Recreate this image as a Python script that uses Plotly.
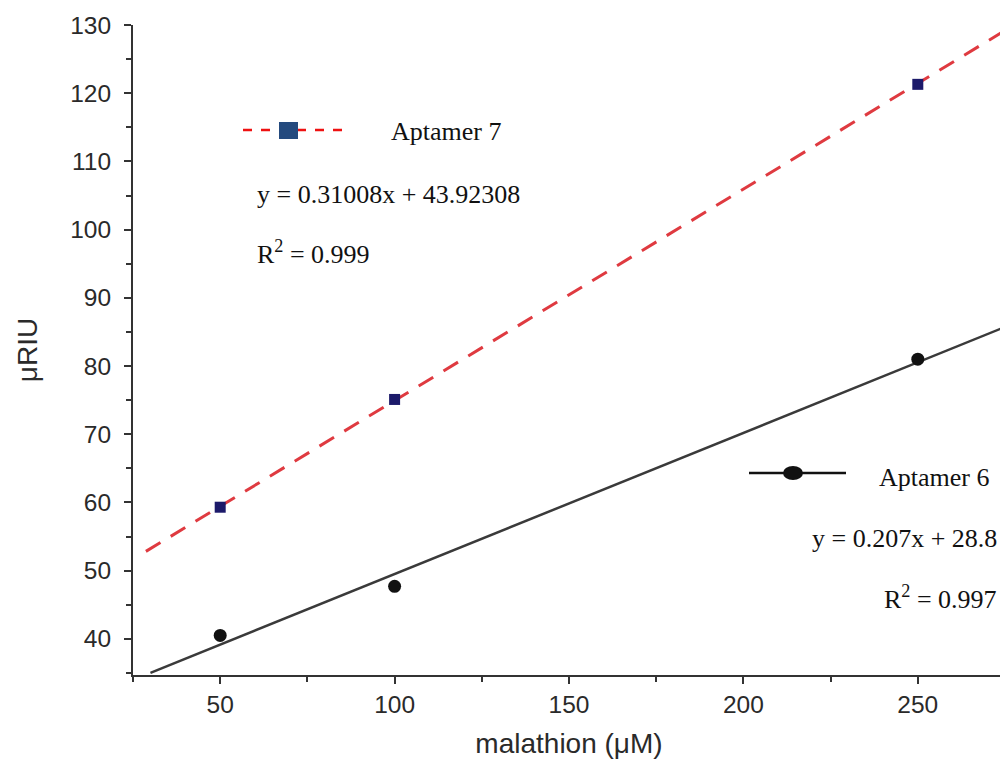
import plotly.graph_objects as go

conc = [50, 100, 250]
apt7 = [59.3, 75.1, 121.3]
apt6 = [40.5, 47.7, 81.0]
fit_x7 = [28.7, 275]
fit_x6 = [30, 275]
slope7, icpt7 = 0.31008, 43.92308
slope6, icpt6 = 0.207, 28.8
xticks = [50, 100, 150, 200, 250]
yticks = [40, 50, 60, 70, 80, 90, 100, 110, 120, 130]

# page offset of the figure (body margin)
OFF = 8
W, H = 1000, 764
PL, PT, PR, PB = 133, 25, 1005, 675  # plot area in page pixels
L, T = PL - OFF, PT - OFF
R = (W + OFF) - PR
B = (H + OFF) - PB
pw, ph = PR - PL, PB - PT

def px(x):
    return (x - PL) / pw

def py(y):
    return (PB - y) / ph

fig = go.Figure()
fig.add_trace(go.Scatter(x=fit_x7, y=[slope7 * v + icpt7 for v in fit_x7], mode="lines",
                         line=dict(color="#df3a40", width=3, dash="17px,12px"), showlegend=False))
fig.add_trace(go.Scatter(x=fit_x6, y=[slope6 * v + icpt6 for v in fit_x6], mode="lines",
                         line=dict(color="#3a3a3a", width=2.5), showlegend=False))
fig.add_trace(go.Scatter(x=conc, y=apt7, mode="markers",
                         marker=dict(symbol="square", size=11, color="#1c1a6a"), showlegend=False))
fig.add_trace(go.Scatter(x=conc, y=apt6, mode="markers",
                         marker=dict(symbol="circle", size=13, color="#111111"), showlegend=False))

shapes = [
    dict(type="line", xref="paper", yref="paper", x0=px(243), x1=px(343), y0=py(130), y1=py(130),
         line=dict(color="#ee1111", width=2.5, dash="dash")),
    dict(type="rect", xref="paper", yref="paper", x0=px(279), x1=px(298), y0=py(122), y1=py(139),
         fillcolor="#244a7e", line=dict(width=0)),
    dict(type="line", xref="paper", yref="paper", x0=px(749), x1=px(846), y0=py(473), y1=py(473),
         line=dict(color="#111111", width=2.5)),
    dict(type="circle", xref="paper", yref="paper", x0=px(783), x1=px(803), y0=py(466), y1=py(480),
         fillcolor="#111111", line=dict(width=0)),
]

tf = dict(family="Liberation Serif, Times New Roman, serif", size=26, color="#111111")
anns = [
    dict(text="Aptamer 7", x=px(389), y=py(131), xanchor="left"),
    dict(text="y = 0.31008x + 43.92308", x=px(255), y=py(194), xanchor="left"),
    dict(text="R<sup>2</sup> = 0.999", x=px(255), y=py(253), xanchor="left"),
    dict(text="Aptamer 6", x=px(877), y=py(477), xanchor="left"),
    dict(text="y = 0.207x + 28.8", x=px(999), y=py(538), xanchor="right"),
    dict(text="R<sup>2</sup> = 0.997", x=px(999), y=py(597), xanchor="right"),
]
for a in anns:
    a.update(xref="paper", yref="paper", yanchor="middle", showarrow=False, font=tf)

axfont = dict(family="Liberation Sans, Arial, sans-serif", size=24.5, color="#2a2a2a")
titlefont = dict(family="Liberation Sans, Arial, sans-serif", size=28, color="#2a2a2a")
fig.update_layout(
    width=W, height=H, margin=dict(l=L, r=R, t=T, b=B),
    paper_bgcolor="white", plot_bgcolor="white",
    shapes=shapes, annotations=anns,
    xaxis=dict(range=[25, 275], tickvals=xticks, ticks="outside", ticklen=7, tickwidth=2,
               tickcolor="#333", showline=True, linecolor="#333", linewidth=2, showgrid=False,
               zeroline=False, tickfont=axfont,
               minor=dict(ticks="outside", tickvals=[25, 75, 125, 175, 225, 275], ticklen=5,
                          tickcolor="#333", tickwidth=2),
               title=dict(text="malathion (μM)", font=titlefont, standoff=16)),
    yaxis=dict(range=[34.7, 130], tickvals=yticks, ticks="outside", ticklen=7, tickwidth=2,
               tickcolor="#333", showline=True, linecolor="#333", linewidth=2, showgrid=False,
               zeroline=False, tickfont=axfont, ticklabelstandoff=8,
               minor=dict(ticks="outside", dtick=5, tick0=0, ticklen=5, tickcolor="#333", tickwidth=2),
               title=dict(text="μRIU", font=titlefont, standoff=24)),
)
fig.write_html("out.html")
